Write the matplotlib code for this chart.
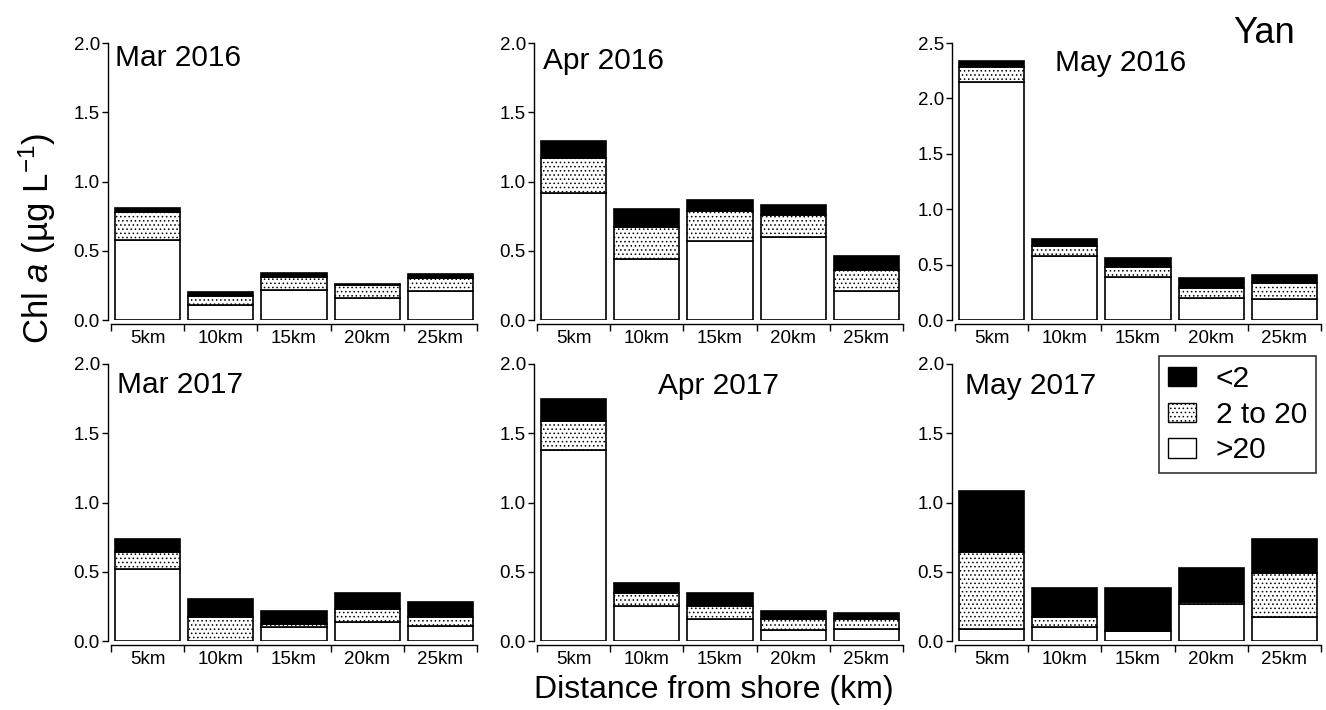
import matplotlib
matplotlib.use("Agg")
import matplotlib.pyplot as plt
from matplotlib.patches import Patch
import numpy as np

plt.rcParams['font.family'] = ['Liberation Sans', 'DejaVu Sans']
plt.rcParams['mathtext.fontset'] = 'custom'
plt.rcParams['mathtext.rm'] = 'Liberation Sans'
plt.rcParams['mathtext.it'] = 'Liberation Sans:italic'
plt.rcParams['hatch.linewidth'] = 0.6

# stations along the transect
stations = ["5km", "10km", "15km", "20km", "25km"]
size_classes = ["<2", "2 to 20", ">20"]

# Chl a per size fraction (ug/L)
mar16_big = [0.58, 0.11, 0.22, 0.16, 0.21]
mar16_mid = [0.20, 0.06, 0.09, 0.09, 0.09]
mar16_small = [0.03, 0.03, 0.03, 0.01, 0.03]

apr16_big = [0.92, 0.44, 0.57, 0.60, 0.21]
apr16_mid = [0.25, 0.23, 0.22, 0.16, 0.15]
apr16_small = [0.12, 0.13, 0.08, 0.07, 0.10]

may16_big = [2.15, 0.58, 0.39, 0.20, 0.19]
may16_mid = [0.13, 0.09, 0.09, 0.09, 0.14]
may16_small = [0.06, 0.06, 0.08, 0.09, 0.08]

mar17_big = [0.52, 0.00, 0.10, 0.14, 0.11]
mar17_mid = [0.12, 0.17, 0.02, 0.09, 0.06]
mar17_small = [0.10, 0.13, 0.10, 0.12, 0.11]

apr17_big = [1.38, 0.255, 0.16, 0.08, 0.085]
apr17_mid = [0.21, 0.095, 0.09, 0.08, 0.075]
apr17_small = [0.155, 0.07, 0.10, 0.06, 0.045]

may17_big = [0.09, 0.10, 0.07, 0.265, 0.17]
may17_mid = [0.55, 0.07, 0.00, 0.015, 0.32]
may17_small = [0.44, 0.21, 0.31, 0.25, 0.25]

months = ["Mar 2016", "Apr 2016", "May 2016", "Mar 2017", "Apr 2017", "May 2017"]
bigs = [mar16_big, apr16_big, may16_big, mar17_big, apr17_big, may17_big]
mids = [mar16_mid, apr16_mid, may16_mid, mar17_mid, apr17_mid, may17_mid]
smalls = [mar16_small, apr16_small, may16_small, mar17_small, apr17_small, may17_small]
ymax = [2.0, 2.0, 2.5, 2.0, 2.0, 2.0]

W, H = 1326, 710
fig = plt.figure(figsize=(W / 100, H / 100), dpi=100)


def px(x, y):
    return x / W, 1 - y / H


col_left = [111, 537, 955]
row_zero = [320, 641]
ax_w, ax_h = 366, 277

# title positions (left, baseline) in pixels
title_pos = [(115, 66), (543, 69), (1055, 71), (117, 393), (658, 394), (965, 394)]

x = np.arange(len(stations)) + 0.5
for i, name in enumerate(months):
    r, c = divmod(i, 3)
    l, b = px(col_left[c], row_zero[r])
    ax = fig.add_axes([l, b, ax_w / W, ax_h / H])
    big = np.array(bigs[i])
    mid = np.array(mids[i])
    small = np.array(smalls[i])
    kw = dict(width=0.89, edgecolor='black', linewidth=1.2)
    ax.bar(x, big, color='white', **kw)
    ax.bar(x, mid, bottom=big, color='white', hatch='....', **kw)
    ax.bar(x, small, bottom=big + mid, color='black', **kw)

    ax.set_xlim(0, 5)
    ax.set_ylim(0, ymax[i])
    yt = np.arange(0, ymax[i] + 0.01, 0.5)
    ax.set_yticks(yt)
    ax.set_yticklabels(["%.1f" % v for v in yt])
    ax.set_xticks(np.arange(0, 6))
    ax.set_xticklabels([])
    ax.set_xticks(x, minor=True)
    ax.set_xticklabels(stations, minor=True)
    ax.tick_params(axis='x', which='minor', length=0, labelsize=13.5, pad=4)
    ax.tick_params(axis='x', which='major', length=5, width=1, direction='out')
    ax.tick_params(axis='y', length=4, width=1, labelsize=13.5, pad=2)
    for s in ['top', 'right']:
        ax.spines[s].set_visible(False)
    ax.spines['left'].set_position(('outward', 2))
    ax.spines['bottom'].set_position(('outward', 3))
    ax.spines['left'].set_linewidth(1)
    ax.spines['bottom'].set_linewidth(1)

    tx, ty = px(*title_pos[i])
    fig.text(tx, ty, name, fontsize=21.5, ha='left', va='baseline')

fig.text(*px(1233, 43), "Yan", fontsize=26, ha='left', va='baseline')
fig.text(*px(714, 698), "Distance from shore (km)", fontsize=23, ha='center', va='baseline')
fig.text(*px(37, 238), r"Chl $\it{a}$ (µg L$^{−1}$)", fontsize=25, rotation=90,
         ha='center', va='center')

handles = [Patch(facecolor='black', edgecolor='black'),
           Patch(facecolor='white', edgecolor='black', hatch='....'),
           Patch(facecolor='white', edgecolor='black')]
leg = fig.legend(handles, size_classes, loc='upper right',
                 bbox_to_anchor=px(1316, 356), fontsize=21.5, frameon=True,
                 fancybox=False, edgecolor='black', handlelength=0.95,
                 handleheight=0.62, labelspacing=0.26, borderpad=0.3,
                 handletextpad=0.65, borderaxespad=0)
leg.get_frame().set_linewidth(1.2)

fig.savefig("out.png", dpi=100)
